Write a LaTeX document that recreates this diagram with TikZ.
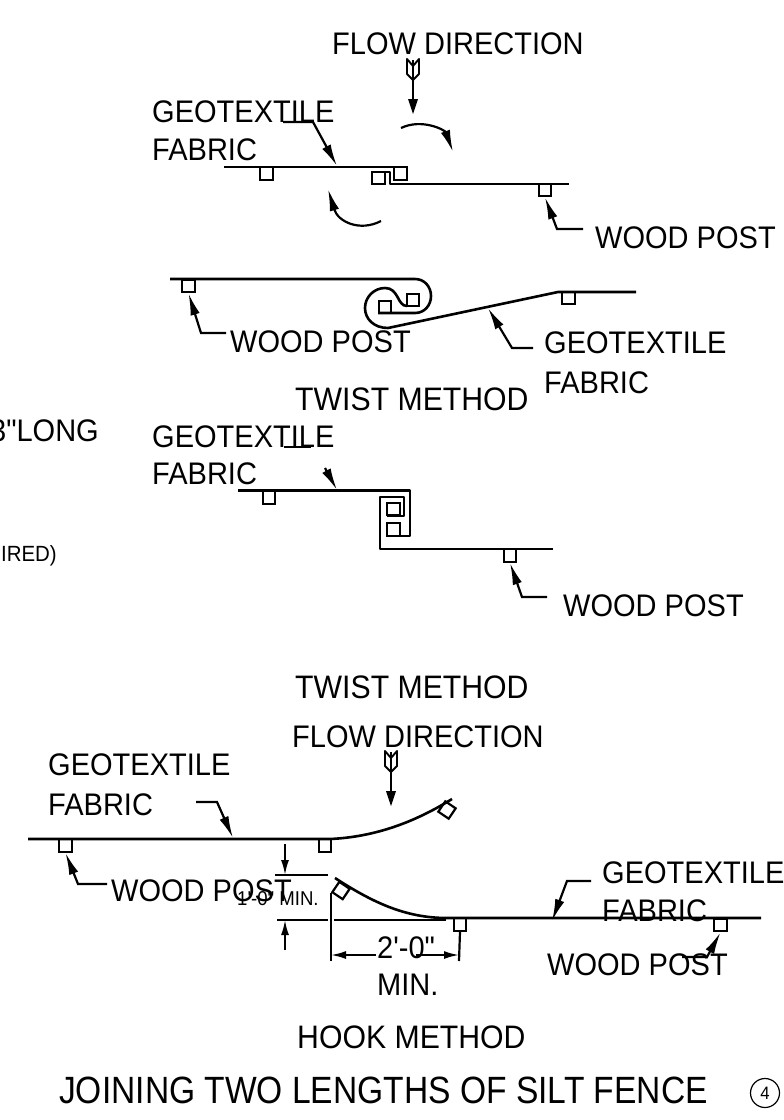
\documentclass[tikz,border=0pt]{standalone}
\usepackage{fontspec}
\setmainfont[FakeStretch=0.93,Ligatures=TeXOff]{Liberation Sans}
\usetikzlibrary{arrows.meta}
\tikzstyle{sheet}=[draw, line width=2.6pt, line join=round]
\tikzstyle{thin}=[draw, line width=2.2pt]
\tikzstyle{leader}=[draw, line width=2.2pt, -{Latex[length=22pt,width=9.5pt]}]
\tikzstyle{dim}=[draw, line width=1.9pt, -{Latex[length=15pt,width=8pt]}]
\tikzstyle{post}=[draw, line width=2.2pt, minimum size=12.5pt, inner sep=0pt]
\tikzstyle{lbl}=[anchor=base west, inner sep=0pt, font=\fontsize{31.2}{31.2}\selectfont]
\tikzstyle{lblwide}=[anchor=base west, inner sep=0pt, font=\fontsize{32.5}{32.5}\selectfont]
\tikzstyle{lblsmall}=[anchor=base west, inner sep=0pt, font=\fontsize{20}{20}\selectfont]
% flow arrow with a feathered tail, tip at #1,#2
\newcommand{\flowarrow}[2]{
\draw[line width=2.2pt] (#1,#2-54) -- (#1,#2-12);
\draw[line width=1.9pt, line join=round] (#1-6,#2-55) -- (#1-6,#2-40) -- (#1,#2-34) -- (#1+6,#2-40) -- (#1+6,#2-55) -- (#1,#2-48) -- cycle;
\fill (#1-5,#2-15) -- (#1+5,#2-15) -- (#1,#2) -- cycle;
}
\begin{document}
\begin{tikzpicture}[x=1pt,y=-1pt]
\useasboundingbox (0,0) rectangle (784,1120);
% top sketch
\node[lbl] (flowa) at (332,54) {FLOW DIRECTION};
\flowarrow{413}{114}
\node[lbl] (geoa) at (152,122) {GEOTEXTILE};
\node[lbl] (faba) at (152,160) {FABRIC};
\node[lbl] (wooda) at (595,248) {WOOD POST};
\draw[sheet] (224,167) -- (407,167);
\draw[sheet] (372,172) -- (390,172) -- (390,184) -- (569,184);
\node[post] (posta) at (266.5,173.5) {};
\node[post] (postb) at (400.5,173.5) {};
\node[post] (postc) at (378.5,178) {};
\node[post] (postd) at (545,190) {};
\coordinate (ga1) at (283,122);
\coordinate (ga2) at (313,122);
\coordinate (ga3) at (337,166);
\draw[leader] (ga1) -- (ga2) -- (ga3);
\coordinate (wa1) at (583,229);
\coordinate (wa2) at (557,229);
\draw[leader] (wa1) -- (wa2) -- (postd.south);
\draw[leader] (401,128) .. controls (422,118) and (445,130) .. (453,152);
\draw[leader] (381,221) .. controls (360,232) and (338,222) .. (328,189);
% second sketch
\node[lbl] (woodb) at (230,352) {WOOD POST};
\node[lbl] (geob) at (544,353) {GEOTEXTILE};
\node[lbl] (fabb) at (544,393) {FABRIC};
\node[lblwide] (twista) at (295,410) {TWIST METHOD};
\draw[sheet] (170,279) -- (415,279) .. controls (424.4,279) and (431,286.6) .. (431,296) .. controls (431,305.4) and (424.4,313) .. (415,313) -- (378,313);
\draw[sheet] (407,306) .. controls (397,306) and (399,288) .. (385,288) .. controls (374,288) and (365,297) .. (365,308) .. controls (365,319) and (374,328) .. (388,328) -- (558,292) -- (636,292);
\node[post] (poste) at (188.5,286) {};
\node[post] (postf) at (385,307) {};
\node[post] (postg) at (413,300) {};
\node[post] (posth) at (568.5,298) {};
\coordinate (wb1) at (226,333);
\coordinate (wb2) at (201,333);
\draw[leader] (wb1) -- (wb2) -- (poste.south);
\coordinate (gb1) at (533,348);
\coordinate (gb2) at (512,348);
\coordinate (gb3) at (488,308);
\draw[leader] (gb1) -- (gb2) -- (gb3);
% third sketch
\node[anchor=base east, inner sep=0pt, font=\fontsize{31.2}{31.2}\selectfont] (longa) at (99,441) {3"LONG};
\node[anchor=base east, inner sep=0pt, font=\fontsize{22}{22}\selectfont] (reqa) at (57,561) {IRED)};
\node[lbl] (geoc) at (152,447) {GEOTEXTILE};
\node[lbl] (fabc) at (152,484) {FABRIC};
\node[lbl] (woodc) at (563,616) {WOOD POST};
\node[lblwide] (twistb) at (295,698) {TWIST METHOD};
\draw[sheet] (238,490.5) -- (410,490.5) -- (410,536) -- (387,536);
\draw[sheet] (387,516) -- (404,516) -- (404,497) -- (380,497) -- (380,549) -- (553,549);
\node[post] (posti) at (269,497.5) {};
\node[post] (postj) at (393.5,509) {};
\node[post] (postk) at (393.5,529.5) {};
\node[post] (postl) at (510,555.5) {};
\coordinate (gc1) at (284,447);
\coordinate (gc2) at (311,447);
\coordinate (gc3) at (325,468);
\coordinate (gc4) at (337,490);
\draw[thin] (gc1) -- (gc2);
\draw[leader] (gc3) -- (gc4);
\coordinate (wc1) at (547,597);
\coordinate (wc2) at (522,597);
\draw[leader] (wc1) -- (wc2) -- (postl.south);
% hook sketch
\node[lbl] (flowb) at (292,747) {FLOW DIRECTION};
\flowarrow{391}{806}
\node[lbl] (geod) at (48,775) {GEOTEXTILE};
\node[lbl] (fabd) at (48,815) {FABRIC};
\node[lbl] (woodd) at (111,901) {WOOD POST};
\node[lblsmall] (onefoot) at (237,905) {1'-0" MIN.};
\node[lbl] (twofoot) at (377,958) {2'-0"};
\node[lbl] (mina) at (377,995) {MIN.};
\node[lbl] (geoe) at (602,883) {GEOTEXTILE};
\node[lbl] (fabe) at (602,921) {FABRIC};
\node[lbl] (woode) at (547,975) {WOOD POST};
\node[lblwide] (hook) at (297,1048) {HOOK METHOD};
\node[anchor=base west, inner sep=0pt, xscale=0.95, font=\fontsize{38}{38}\selectfont] (title) at (59,1103) {JOINING TWO LENGTHS OF SILT FENCE};
\node[draw, circle, line width=1.2pt, minimum size=29pt, inner sep=0pt, font=\fontsize{18}{18}\selectfont] (sheetno) at (765,1093) {4};
\draw[sheet] (28,839) -- (330,839) .. controls (375,837) and (415,822) .. (452,799);
\draw[sheet] (335,878) .. controls (372,902) and (405,918) .. (447,918) -- (761,918);
\node[post] (postm) at (65.5,845.5) {};
\node[post] (postn) at (325,845.5) {};
\node[post, rotate=-34] (posto) at (447,810) {};
\node[post, rotate=-34] (postp) at (341,890.5) {};
\node[post] (postq) at (460,924.5) {};
\node[post] (postr) at (720.5,925) {};
\coordinate (gd1) at (196,802);
\coordinate (gd2) at (217,802);
\coordinate (gd3) at (233,838);
\draw[leader] (gd1) -- (gd2) -- (gd3);
\coordinate (wd1) at (107,884);
\coordinate (wd2) at (78,884);
\draw[leader] (wd1) -- (wd2) -- (postm.south);
\coordinate (ge1) at (591,881);
\coordinate (ge2) at (567,881);
\coordinate (ge3) at (552,921);
\draw[leader] (ge1) -- (ge2) -- (ge3);
\coordinate (we1) at (682,957);
\coordinate (we2) at (707,957);
\draw[leader] (we1) -- (we2) -- (postr.south);
% dimensions
\coordinate (da1) at (275,875);
\coordinate (da2) at (328,875);
\coordinate (db1) at (277,920);
\coordinate (db2) at (328,920);
\coordinate (db3) at (334,920);
\coordinate (db4) at (446,920);
\draw[thin] (da1) -- (da2);
\draw[thin] (db1) -- (db2);
\draw[thin] (db3) -- (db4);
\coordinate (dc1) at (285,844);
\coordinate (dc2) at (285,875);
\coordinate (dd1) at (285,950);
\coordinate (dd2) at (285,920);
\draw[dim] (dc1) -- (dc2);
\draw[dim] (dd1) -- (dd2);
\coordinate (de1) at (331,893);
\coordinate (de2) at (331,961);
\draw[thin] (de1) -- (de2);
\coordinate (df2) at (459,961);
\draw[thin] (postq.south) -- (df2);
\coordinate (dg1) at (376,955);
\coordinate (dg2) at (331,955);
\coordinate (dh1) at (416,955);
\coordinate (dh2) at (459,955);
\draw[dim] (dg1) -- (dg2);
\draw[dim] (dh1) -- (dh2);
\end{tikzpicture}
\end{document}
